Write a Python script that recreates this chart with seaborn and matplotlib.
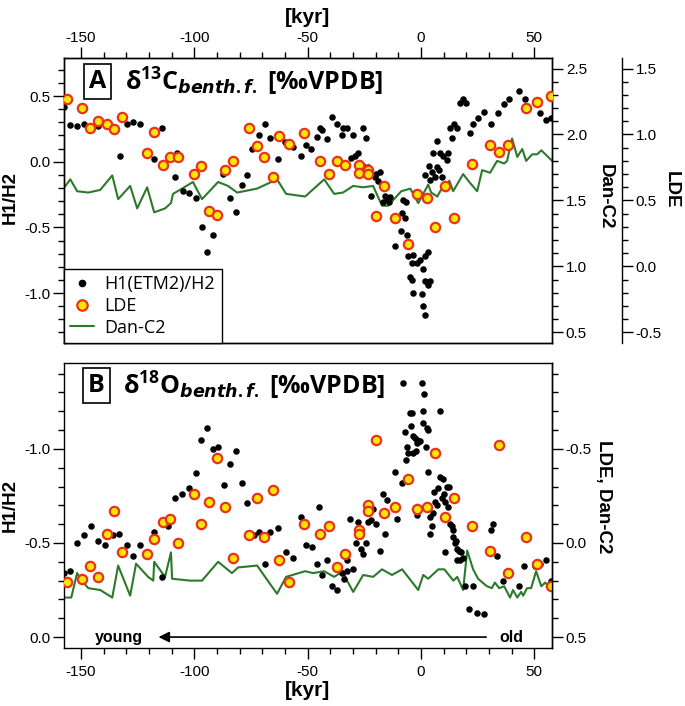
import matplotlib
matplotlib.use("Agg")
import matplotlib.pyplot as plt
import matplotlib.ticker as tkr
from matplotlib.lines import Line2D
import seaborn as sns

# ---------------- data ----------------
# Panel A, H1(ETM2)/H2 d13C (left axis)
a_h1_kyr = [-157.4, -154.7, -151.7, -148.6, -142.4, -132.7, -129.7, -127.0, -123.9, -117.7,
            -114.2, -107.6, -108.5, -105.0, -102.3, -99.2, -96.6, -94.4, -91.7, -87.3,
            -84.2, -81.6, -78.9, -76.7, -74.5, -71.4, -68.8, -66.6, -63.1, -60.0,
            -56.5, -52.9, -50.7, -48.5, -45.9, -44.5, -43.7, -41.5, -39.2, -37.0,
            -34.8, -34.4, -32.6, -30.8, -30.0, -29.1, -27.7, -25.5, -24.2, -25.5,
            -23.3, -22.5, -19.8, -22.0, -20.2, -18.0, -19.0, -17.2, -15.9, -15.0,
            -13.7, -16.8, -14.1, -7.9, -6.5, -8.3, -6.9, -8.7, -6.0, -11.5,
            1.6, -5.6, -3.4, -3.8, -1.6, -0.3, 1.9, 3.2, 1.0, -4.7,
            -3.8, 1.9, 3.2, 4.1, -3.4, 0.6, 1.0, 1.9, 3.7, 5.0,
            4.1, 6.3, 7.2, 8.1, 9.4, 5.4, 8.5, 9.8, 11.6, 12.0,
            7.2, 13.8, 12.9, 14.7, 16.0, 17.3, 18.6, 20.0, 21.7, 23.0,
            25.2, 27.8, 30.9, 34.0, 36.7, 38.9, 43.3, 45.9, 52.6, 55.2, 57.5]
a_h1_val = [0.42, 0.28, 0.27, 0.29, 0.27, 0.04, 0.29, 0.30, 0.29, 0.02,
            0.26, 0.07, -0.12, -0.22, -0.24, -0.28, -0.50, -0.69, -0.56, -0.09,
            -0.28, -0.38, -0.18, -0.10, 0.10, 0.20, 0.29, 0.18, 0.02, 0.15,
            0.11, 0.04, 0.13, 0.10, 0.19, 0.26, 0.24, 0.17, 0.34, 0.29,
            0.20, 0.26, 0.26, 0.03, 0.20, 0.04, 0.07, 0.26, 0.18, -0.03,
            -0.04, -0.10, -0.09, -0.26, -0.12, -0.08, -0.15, -0.18, -0.26, -0.28,
            -0.27, -0.31, -0.31, -0.29, -0.31, -0.39, -0.43, -0.53, -0.56, -0.64,
            -0.10, -0.72, -0.71, -0.77, -0.77, -0.75, -0.72, -0.69, -0.82, -0.88,
            -0.90, -0.91, -0.94, -0.91, -1.00, -1.01, -1.10, -1.17, -0.03, -0.08,
            -0.14, -0.12, -0.04, -0.06, -0.12, 0.07, 0.07, 0.04, 0.01, 0.07,
            0.16, 0.18, 0.26, 0.29, 0.26, 0.45, 0.48, 0.45, 0.22, 0.29,
            0.33, 0.38, 0.29, 0.37, 0.44, 0.48, 0.54, 0.48, 0.37, 0.32, 0.33]

# LDE samples (same ages in both panels)
lde_kyr = [-156.1, -149.5, -146.0, -142.4, -138.5, -135.4, -131.9, -120.8, -117.7, -113.8,
           -110.7, -107.2, -100.1, -97.0, -93.5, -90.0, -86.3, -83.0, -75.9, -72.4,
           -69.2, -65.3, -62.6, -58.2, -51.6, -44.5, -40.6, -37.2, -33.5, -27.2,
           -27.2, -23.3, -23.3, -19.9, -16.1, -11.5, -5.6, -1.6, 2.8, 6.3,
           10.7, 14.7, 22.6, 30.5, 34.5, 38.5, 46.4, 51.3, 57.5]
a_lde_val = [1.27, 1.20, 1.05, 1.10, 1.08, 1.04, 1.13, 0.86, 1.02, 0.77,
             0.83, 0.83, 0.70, 0.76, 0.42, 0.39, 0.73, 0.80, 1.05, 0.91,
             0.83, 0.68, 0.99, 0.93, 1.01, 0.80, 0.70, 0.80, 0.77, 0.77,
             0.71, 0.73, 0.70, 0.38, 0.61, 0.37, 0.17, 0.55, 0.52, 0.30,
             0.61, 0.37, 0.78, 0.92, 0.87, 0.92, 1.20, 1.25, 1.29]
b_lde_val = [0.21, 0.19, 0.12, 0.18, -0.05, -0.17, 0.05, 0.06, -0.02, -0.11,
             -0.13, 0.00, -0.26, -0.10, -0.22, -0.45, -0.19, 0.08, -0.04, -0.24,
             -0.03, -0.28, 0.09, 0.21, -0.10, -0.05, -0.09, 0.13, 0.06, -0.07,
             -0.05, -0.20, -0.17, -0.55, -0.16, -0.19, -0.34, -0.18, -0.19, -0.48,
             -0.14, -0.24, -0.09, 0.04, -0.52, 0.16, -0.03, 0.11, 0.23]

# Panel A, Dan-C2 d13C
a_dan_kyr = [-157.3, -154.7, -151.7, -146.8, -141.5, -136.2, -133.6, -128.3, -125.2, -120.8,
             -117.7, -112.9, -110.3, -109.4, -105.4, -100.6, -96.6, -89.5, -85.1, -81.1,
             -72.3, -63.5, -59.5, -51.1, -42.7, -38.3, -34.4, -29.9, -25.5, -21.1,
             -17.2, -14.5, -8.7, -4.7, -1.2, 3.2, 4.5, 7.2, 9.8, 11.2,
             12.5, 14.2, 18.6, 21.3, 24.8, 27.0, 30.5, 33.6, 36.7, 38.0,
             40.2, 42.5, 44.7, 46.4, 49.1, 51.3, 53.1, 57.9]
a_dan_val = [1.60, 1.66, 1.57, 1.56, 1.58, 1.69, 1.51, 1.61, 1.44, 1.60,
             1.41, 1.44, 1.48, 1.55, 1.59, 1.64, 1.51, 1.64, 1.61, 1.56,
             1.59, 1.66, 1.55, 1.53, 1.66, 1.55, 1.56, 1.61, 1.60, 1.61,
             1.46, 1.46, 1.57, 1.59, 1.48, 1.62, 1.56, 1.53, 1.61, 1.57,
             1.65, 1.57, 1.70, 1.64, 1.57, 1.73, 1.71, 1.80, 1.78, 1.80,
             1.97, 1.83, 1.89, 1.80, 1.85, 1.85, 1.88, 1.80]

# Panel B, H1(ETM2)/H2 d18O
b_h1_kyr = [-157.3, -154.7, -151.7, -148.6, -145.5, -142.4, -139.4, -135.8, -133.2, -129.7,
            -127.0, -123.9, -114.2, -111.6, -117.7, -108.5, -105.4, -102.3, -99.2, -97.0,
            -94.4, -91.7, -89.5, -86.9, -84.2, -81.6, -78.9, -76.7, -73.6, -71.4,
            -68.8, -66.6, -63.1, -59.5, -56.5, -52.9, -50.7, -48.1, -45.9, -45.0,
            -43.7, -41.5, -39.2, -37.0, -34.8, -33.9, -32.6, -31.3, -32.6, -29.9,
            -28.6, -27.7, -26.4, -25.5, -24.2, -23.3, -22.0, -21.1, -19.8, -18.1,
            -16.8, -15.9, -15.0, -10.6, -11.5, -8.3, -7.9, -7.0, -6.5, -6.0,
            -5.6, -4.7, -3.8, -4.2, -3.4, -2.6, -3.4, -1.6, -1.6, -0.3,
            -2.2, 0.6, 1.0, 1.5, 1.0, 2.8, 3.2, 2.4, 3.2, 8.5,
            -1.6, 4.1, 5.4, 4.1, 5.0, 5.9, 6.3, 7.2, 7.7, 8.5,
            9.8, 9.4, 10.3, 11.6, 12.5, 10.7, 11.9, 12.9, 13.8, 14.3,
            14.3, 15.2, 15.6, 10.7, 16.0, 16.9, 17.7, 16.0, 17.3, 18.6,
            19.6, 21.3, 23.0, 24.8, 27.6, 30.9, 31.8, 33.6, 36.2, 43.3,
            45.4, 50.3, 52.6, 55.2, 57.5]
b_h1_val = [-0.34, -0.35, -0.50, -0.54, -0.59, -0.51, -0.49, -0.54, -0.55, -0.49,
            -0.43, -0.49, -0.32, -0.59, -0.56, -0.74, -0.76, -0.79, -0.87, -1.05,
            -1.11, -1.00, -1.01, -0.81, -0.92, -0.99, -0.82, -0.71, -0.54, -0.56,
            -0.39, -0.56, -0.58, -0.45, -0.42, -0.64, -0.49, -0.48, -0.39, -0.69,
            -0.33, -0.41, -0.27, -0.25, -0.34, -0.31, -0.35, -0.63, -0.41, -0.36,
            -0.50, -0.61, -0.47, -0.44, -0.50, -0.61, -0.62, -0.68, -0.60, -0.46,
            -0.76, -0.55, -0.73, -0.63, -0.88, -0.82, -1.35, -1.09, -0.94, -1.01,
            -0.98, -1.19, -1.19, -1.12, -0.98, -1.06, -1.07, -1.05, -1.03, -1.04,
            -0.99, -1.35, -1.20, -1.29, -1.14, -1.11, -1.10, -1.01, -0.88, -1.20,
            -0.65, -0.64, -0.66, -0.55, -0.59, -0.77, -0.72, -0.70, -0.79, -0.85,
            -0.84, -0.74, -0.76, -0.80, -0.80, -0.72, -0.69, -0.60, -0.59, -0.57,
            -0.53, -0.50, -0.51, -0.45, -0.47, -0.46, -0.45, -0.41, -0.41, -0.42,
            -0.27, -0.15, -0.27, -0.13, -0.12, -0.57, -0.60, -0.43, -0.30, -0.27,
            -0.38, -0.38, -0.39, -0.41, -0.30]

# Panel B, Dan-C2 d18O
b_dan_kyr = [-157.3, -154.3, -151.7, -150.3, -146.8, -141.5, -136.2, -133.6, -128.3, -125.7,
             -120.4, -118.1, -117.7, -112.9, -110.3, -109.8, -101.9, -96.6, -89.5, -83.4,
             -80.7, -72.3, -63.5, -59.5, -51.1, -47.6, -42.7, -38.3, -34.4, -32.6,
             -29.9, -25.5, -21.1, -17.2, -12.8, -8.3, -1.2, 1.0, 3.2, 7.7,
             10.3, 14.3, 16.0, 18.6, 20.4, 23.0, 25.2, 29.1, 31.3, 32.6,
             34.5, 36.7, 39.3, 40.6, 42.5, 44.2, 45.1, 46.8, 48.6, 50.8,
             53.1, 54.8, 57.5]
b_dan_val = [0.29, 0.29, 0.16, 0.19, 0.24, 0.25, 0.29, 0.12, 0.28, 0.11,
             0.18, 0.20, 0.10, 0.18, 0.05, 0.19, 0.20, 0.20, 0.10, 0.16,
             0.13, 0.12, 0.27, 0.18, 0.15, 0.16, 0.15, 0.18, 0.15, 0.20,
             0.26, 0.17, 0.18, 0.14, 0.17, 0.14, 0.25, 0.17, 0.19, 0.14,
             0.14, 0.20, 0.18, 0.25, 0.04, 0.14, 0.19, 0.23, 0.24, 0.21,
             0.24, 0.23, 0.29, 0.25, 0.29, 0.26, 0.28, 0.24, 0.24, 0.15,
             0.23, 0.21, 0.25]

x_ticks_major = 50
x_ticks_minor = 10

# ---------------- style ----------------
sns.set_style("ticks")
plt.rcParams.update({
    'font.family': ['Liberation Sans', 'DejaVu Sans'],
    'axes.edgecolor': 'black', 'axes.linewidth': 1.0,
    'xtick.color': 'black', 'ytick.color': 'black',
    'text.color': 'black', 'axes.labelcolor': 'black',
    'mathtext.fontset': 'custom',
    'mathtext.rm': 'Open Sans:bold',
    'mathtext.it': 'DejaVu Sans:italic:bold',
    'mathtext.bf': 'Open Sans:bold',
})

BLACK_DOT = 'black'
LDE_FACE = '#FFE600'
LDE_EDGE = '#E8321E'
DAN_GREEN = '#2B7A2B'

fig = plt.figure(figsize=(6.85, 7.06), dpi=100)
ax_a = fig.add_axes([0.0934, 0.5142, 0.7124, 0.4037])
ax_b = fig.add_axes([0.0934, 0.0822, 0.7124, 0.4037])


def style_y(ax, lo, hi, major=0.5, minor=0.1):
    ax.set_ylim(lo, hi)
    ax.yaxis.set_major_locator(tkr.MultipleLocator(major))
    ax.yaxis.set_minor_locator(tkr.MultipleLocator(minor))
    ax.yaxis.set_major_formatter(tkr.FormatStrFormatter('%.1f'))
    ax.tick_params(axis='y', which='major', length=8, width=1, labelsize=11, pad=2, direction='out')
    ax.tick_params(axis='y', which='minor', length=4, width=1, direction='out')


def style_x(ax, pad):
    ax.set_xlim(-157.5, 57.8)
    ax.xaxis.set_major_locator(tkr.MultipleLocator(x_ticks_major))
    ax.xaxis.set_minor_locator(tkr.MultipleLocator(x_ticks_minor))
    ax.xaxis.set_major_formatter(tkr.FormatStrFormatter('%d'))
    ax.tick_params(axis='x', which='major', length=8, width=1, labelsize=11, pad=pad, direction='out')
    ax.tick_params(axis='x', which='minor', length=4, width=1, direction='out')


# ---------------- panel A ----------------
ax_a_dan = ax_a.twinx()
ax_a_lde = ax_a.twinx()
ax_a_dan.set_zorder(0)
ax_a.set_zorder(1)
ax_a_lde.set_zorder(2)
ax_a.patch.set_visible(False)
ax_a_lde.spines['right'].set_position(('axes', 1.143))
for s in ['left', 'top', 'bottom']:
    ax_a_lde.spines[s].set_visible(False)

sns.lineplot(x=a_dan_kyr, y=a_dan_val, ax=ax_a_dan, color=DAN_GREEN, linewidth=1.5,
             estimator=None, sort=False)
sns.scatterplot(x=a_h1_kyr, y=a_h1_val, ax=ax_a, color=BLACK_DOT, s=22, linewidth=0, legend=False)
sns.scatterplot(x=lde_kyr, y=a_lde_val, ax=ax_a_lde, color=LDE_FACE, edgecolor=LDE_EDGE,
                linewidth=1.6, s=45, legend=False)

style_x(ax_a, 1)
ax_a.xaxis.tick_top()
ax_a.xaxis.set_label_position('top')
ax_a.set_xlabel('[kyr]', fontsize=15, fontweight='bold', labelpad=6)
style_y(ax_a, -1.38, 0.79)
style_y(ax_a_dan, 0.42, 2.58)
style_y(ax_a_lde, -0.58, 1.58)
ax_a.set_ylabel('H1/H2', fontsize=13.5, fontweight='bold')
ax_a.yaxis.set_label_coords(-0.092, 0.51)
ax_a_dan.set_ylabel('')
ax_a_lde.set_ylabel('')
ax_a_dan.text(1.109, 0.512, 'Dan-C2', transform=ax_a.transAxes, rotation=270,
              ha='center', va='center', fontsize=13.5, fontweight='bold')
ax_a_lde.text(1.245, 0.537, 'LDE', transform=ax_a.transAxes, rotation=270,
              ha='center', va='center', fontsize=13.5, fontweight='bold')

title_kw = dict(ha='left', va='center', fontsize=18, fontweight='bold', family='Open Sans')
box_kw = dict(ha='center', va='center', fontsize=18, fontweight='bold', family='Open Sans',
              bbox=dict(boxstyle='square,pad=0.2', fc='white', ec='black', lw=1.2))
ax_a_lde.text(0.069, 0.919, 'A', transform=ax_a.transAxes, **box_kw)
ax_a_lde.text(0.125, 0.919, r'δ$^{\mathrm{13}}$C$_{\mathit{benth.f.}}$ [‰VPDB]',
              transform=ax_a.transAxes, **title_kw)

handles = [Line2D([], [], ls='none', marker='o', color=BLACK_DOT, markersize=4.5),
           Line2D([], [], ls='none', marker='o', mfc=LDE_FACE, mec=LDE_EDGE, mew=1.6, markersize=7.5),
           Line2D([], [], color=DAN_GREEN, lw=1.5)]
leg = ax_a_lde.legend(handles, ['H1(ETM2)/H2', 'LDE', 'Dan-C2'], loc='lower left',
                      bbox_to_anchor=(0, 0), bbox_transform=ax_a.transAxes, borderaxespad=0,
                      frameon=True, fancybox=False, edgecolor='black', framealpha=1,
                      prop={'family': 'Open Sans', 'size': 13}, handlelength=1.3,
                      handletextpad=0.6, labelspacing=0.2, borderpad=0.35)
leg.get_frame().set_linewidth(1.0)

# ---------------- panel B ----------------
ax_b_line = ax_b.twinx()
ax_b_r = ax_b.twinx()
ax_b_line.set_zorder(0)
ax_b.set_zorder(1)
ax_b_r.set_zorder(2)
ax_b.patch.set_visible(False)
ax_b_line.axis('off')
for s in ['left', 'top', 'bottom']:
    ax_b_r.spines[s].set_visible(False)

sns.lineplot(x=b_dan_kyr, y=b_dan_val, ax=ax_b_line, color=DAN_GREEN, linewidth=1.5,
             estimator=None, sort=False)
sns.scatterplot(x=b_h1_kyr, y=b_h1_val, ax=ax_b, color=BLACK_DOT, s=22, linewidth=0, legend=False)
sns.scatterplot(x=lde_kyr, y=b_lde_val, ax=ax_b_r, color=LDE_FACE, edgecolor=LDE_EDGE,
                linewidth=1.6, s=45, legend=False)

style_x(ax_b, 4)
ax_b.set_xlabel('[kyr]', fontsize=15, fontweight='bold', labelpad=2)
style_y(ax_b, 0.058, -1.457)
style_y(ax_b_r, 0.558, -0.957)
ax_b_line.set_ylim(0.558, -0.957)
ax_b.set_ylabel('H1/H2', fontsize=13.5, fontweight='bold')
ax_b.yaxis.set_label_coords(-0.092, 0.5)
ax_b_r.set_ylabel('')
ax_b_r.text(1.105, 0.53, 'LDE, Dan-C2', transform=ax_b.transAxes, rotation=270,
            ha='center', va='center', fontsize=13.5, fontweight='bold')

ax_b_r.text(0.067, 0.92, 'B', transform=ax_b.transAxes, **box_kw)
ax_b_r.text(0.121, 0.92, r'δ$^{\mathrm{18}}$O$_{\mathit{benth.f.}}$ [‰VPDB]',
            transform=ax_b.transAxes, **title_kw)

# young <- old arrow
ax_b.annotate('', xy=(-117, 0.0), xytext=(30, 0.0),
              arrowprops=dict(arrowstyle='-|>', color='black', lw=1.2, mutation_scale=16))
ax_b.text(-122.5, 0.0, 'young', ha='right', va='center', fontsize=11.5, fontweight='bold')
ax_b.text(34.4, 0.0, 'old', ha='left', va='center', fontsize=11.5, fontweight='bold')

fig.savefig('out.png', dpi=100)
